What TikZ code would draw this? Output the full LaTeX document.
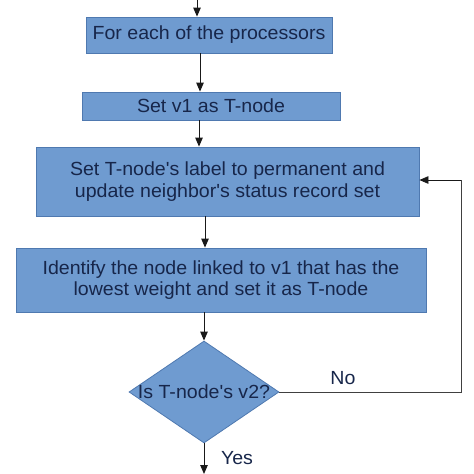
\documentclass[tikz,border=0pt]{standalone}
\usepackage{fontspec}
\setmainfont{Liberation Sans}[FakeStretch=1.03, Ligatures=TeXOff]
\usetikzlibrary{shapes.geometric,arrows.meta}
\definecolor{boxfill}{HTML}{6F9BD0}
\definecolor{boxdraw}{HTML}{4F79B0}
\definecolor{txt}{HTML}{17264A}
\tikzset{
  stepbox/.style={draw=boxdraw, line width=0.8pt, fill=boxfill, text=txt, inner sep=0pt, align=center,
    font=\fontsize{19}{21.5}\selectfont},
  decision/.style={diamond, draw=boxdraw, line width=0.8pt, fill=boxfill, text=txt, inner sep=0pt,
    minimum width=150pt, minimum height=102pt, aspect=1.47},
  arr/.style={draw=black!90, line width=1pt, -{Triangle[length=9pt,width=7.5pt]}},
  lin/.style={draw=black!75, line width=0.8pt},
  lbl/.style={text=txt, font=\fontsize{19}{21.5}\selectfont, inner sep=0pt}
}
\begin{document}
\begin{tikzpicture}[x=1pt,y=1pt]
\useasboundingbox (0,0) rectangle (474,-474);
\node[stepbox, minimum width=246pt, minimum height=36pt] (n1) at (209,-35) {For each of the processors};
\node[stepbox, minimum width=258pt, minimum height=28pt] (n2) at (211,-106) {Set v1 as T-node};
\node[stepbox, minimum width=383pt, minimum height=69pt] (n3) at (227.5,-181.5) {Set T-node's label to permanent and\\update neighbor's status record set};
\node[stepbox, minimum width=410pt, minimum height=64pt] (n4) at (221,-280) {Identify the node linked to v1 that has the\\lowest weight and set it as T-node};
\node[decision] (d) at (204,-392) {};
\node[lbl] (q) at (204,-392) {Is T-node's v2?};
\coordinate (top) at (197,0);
\coordinate (bot) at (204,-474);
\coordinate (c1) at (461,-392);
\coordinate (c2) at (461,-180);
\node[lbl] (no) at (343,-378) {No};
\node[lbl] (yes) at (237,-458) {Yes};
\draw[arr] (top) -- (top |- n1.north);
\draw[arr] (n1.south -| 200,0) -- (n2.north -| 200,0);
\draw[arr] (n2.south -| 199,0) -- (n3.north -| 199,0);
\draw[arr] (n3.south -| 205,0) -- (n4.north -| 205,0);
\draw[arr] (n4.south -| d.north) -- (d.north);
\draw[arr] (d.south) -- (bot);
\draw[lin] (d.east) -- (c1) -- (c2);
\draw[arr, line width=0.8pt] (c2) -- (c2 -| n3.east);
\end{tikzpicture}
\end{document}
